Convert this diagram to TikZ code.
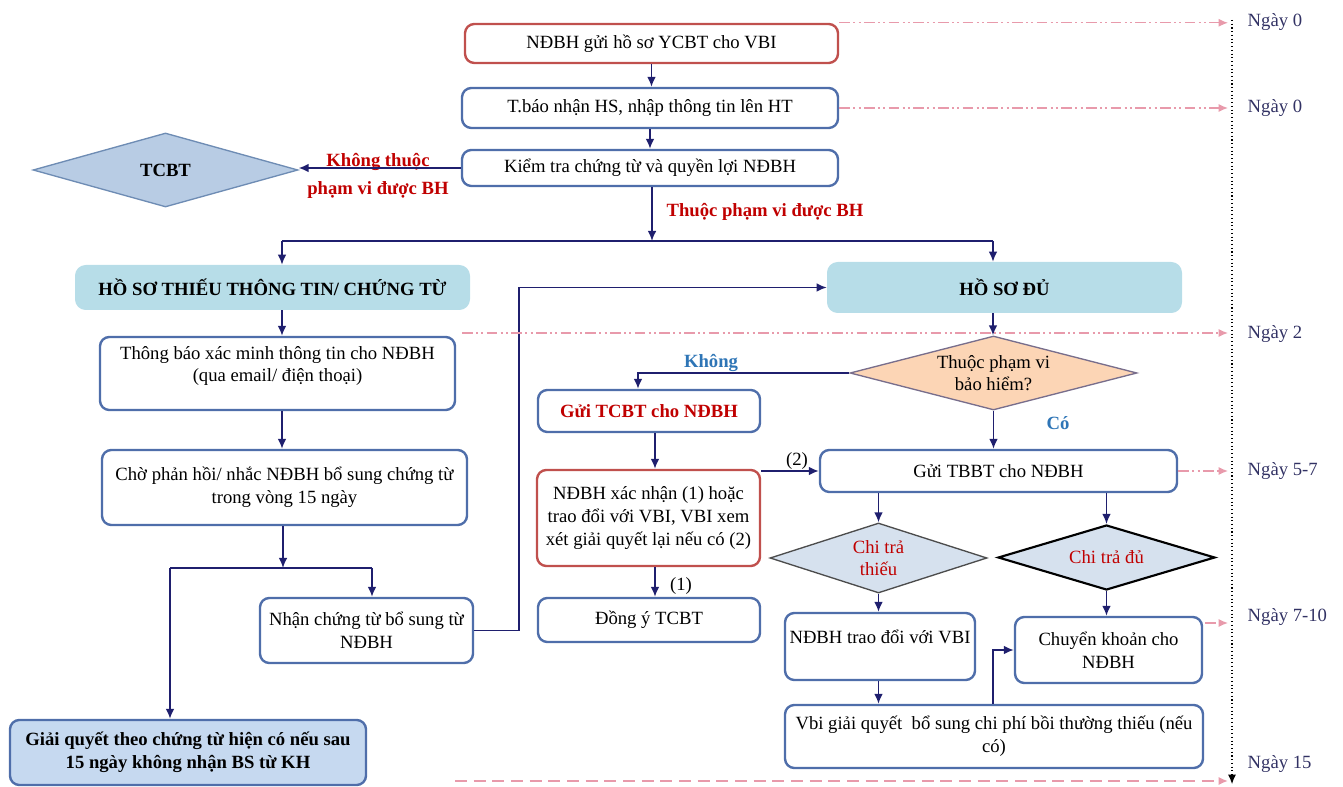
\documentclass[tikz,border=0pt]{standalone}
\usepackage{fontspec}
\setmainfont{Liberation Serif}
\usetikzlibrary{shapes.geometric,arrows.meta,calc}
\definecolor{bblue}{RGB}{79,110,170}
\definecolor{bred}{RGB}{192,80,77}
\definecolor{navyc}{RGB}{31,31,110}
\definecolor{hsfill}{RGB}{183,221,232}
\definecolor{gqfill}{RGB}{198,217,240}
\definecolor{tcfill}{RGB}{184,204,228}
\definecolor{tcdraw}{RGB}{110,140,180}
\definecolor{tpfill}{RGB}{252,213,181}
\definecolor{tpdraw}{RGB}{120,110,140}
\definecolor{ctfill}{RGB}{214,225,238}
\definecolor{redt}{RGB}{192,0,0}
\definecolor{bluet}{RGB}{46,117,182}
\definecolor{dayt}{RGB}{50,50,100}
\definecolor{pinkc}{RGB}{232,154,171}
\begin{document}
\begin{tikzpicture}[x=0.75pt,y=-0.75pt,
  every node/.style={font=\fontsize{14}{17}\selectfont},
  wh/.style 2 args={minimum width={#1*0.75pt}, minimum height={#2*0.75pt}},
  box/.style={draw=bblue, line width=1.8pt, rounded corners=7pt, fill=white, align=center, inner sep=1pt},
  rbox/.style={box, draw=bred},
  hsbox/.style={fill=hsfill, rounded corners=8pt, align=center, inner sep=1pt, font=\fontsize{14}{17}\selectfont\bfseries},
  dia/.style={diamond, inner sep=0pt, align=center},
  arr/.style={draw=navyc, line width=1.2pt, -{Latex[length=7.5pt,width=6.5pt]}},
  ln/.style={draw=navyc, line width=1.2pt},
  dd/.style={draw=pinkc, line width=0.9pt, dash pattern=on 8pt off 2.5pt on 1.5pt off 2.5pt on 1.5pt off 2.5pt, -{Latex[length=7pt,width=6pt]}},
  ddb/.style={draw=pinkc, line width=1.2pt, dash pattern=on 9pt off 5pt, -{Latex[length=7pt,width=6pt]}},
  day/.style={anchor=west, text=dayt},
  redlab/.style={text=redt, font=\fontsize{14}{17}\selectfont\bfseries, align=center},
  bluelab/.style={text=bluet, font=\fontsize{14}{17}\selectfont\bfseries}
]
\useasboundingbox (0,0) rectangle (1343,787);

% top column
\node[rbox, wh={373}{39}] (n1) at (651.5,43.5) {NĐBH gửi hồ sơ YCBT cho VBI};
\node[box, wh={376}{40}] (n2) at (650,108) {T.báo nhận HS, nhập thông tin lên HT};
\node[box, wh={376}{36}] (n3) at (650,168) {Kiểm tra chứng từ và quyền lợi NĐBH};
\node[dia, aspect=3.6, wh={265}{74}, fill=tcfill, draw=tcdraw, line width=1pt, font=\fontsize{14}{17}\selectfont\bfseries] (tcbt) at (165.5,170) {TCBT};
\node[redlab] (lbKT) at (378,176) {Không thuộc\\[4pt]phạm vi được BH};
\node[redlab] (lbT) at (765,212) {Thuộc phạm vi được BH};

% second level
\node[hsbox, wh={395}{45}] (hst) at (272.5,287.5) {HỒ SƠ THIẾU THÔNG TIN/ CHỨNG TỪ};
\node[hsbox, wh={355}{51}] (hsd) at (1004.5,287.5) {HỒ SƠ ĐỦ};

% left column
\node[box, wh={355}{73}, text depth=14pt] (L1) at (277.5,373.5) {Thông báo xác minh thông tin cho NĐBH\\(qua email/ điện thoại)};
\node[box, wh={365}{75}] (L2) at (284.5,487.5) {Chờ phản hồi/ nhắc NĐBH bổ sung chứng từ\\trong vòng 15 ngày};
\node[box, wh={213}{65}] (nhan) at (366.5,630.5) {Nhận chứng từ bổ sung từ\\NĐBH};
\node[box, wh={356}{65}, fill=gqfill, font=\fontsize{14}{17}\selectfont\bfseries] (gq) at (188,752.5) {Giải quyết theo chứng từ hiện có nếu sau\\15 ngày không nhận BS từ KH};

% middle column
\node[dia, aspect=3.9, wh={287}{74}, fill=tpfill, draw=tpdraw, line width=1pt] (tp) at (993.5,373) {Thuộc phạm vi\\bảo hiểm?};
\node[box, wh={222}{42}, font=\fontsize{14}{17}\selectfont\bfseries, text=redt] (gtc) at (649,411) {Gửi TCBT cho NĐBH};
\node[rbox, wh={223}{96}] (xn) at (648.5,518) {NĐBH xác nhận (1) hoặc\\trao đổi với VBI, VBI xem\\xét giải quyết lại nếu có (2)};
\node[box, wh={222}{44}] (dy) at (649,620) {Đồng ý TCBT};

% right column
\node[box, wh={357}{42}] (tbbt) at (998.5,471) {Gửi TBBT cho NĐBH};
\node[dia, aspect=3.1, wh={217}{70}, fill=ctfill, draw=black!70, line width=1pt, text=redt] (ctt) at (878.5,558) {Chi trả\\thiếu};
\node[dia, aspect=3.3, wh={217}{65}, fill=ctfill, draw=black, line width=1.6pt, text=redt] (ctd) at (1106.5,557.5) {Chi trả đủ};
\node[box, wh={190}{67}, text depth=14pt] (ntd) at (880,646.5) {NĐBH trao đổi với VBI};
\node[box, wh={187}{66}] (ck) at (1108.5,650) {Chuyển khoản cho\\NĐBH};
\node[box, wh={418}{63}] (vbi) at (994,736.5) {Vbi giải quyết \ bổ sung chi phí bồi thường thiếu (nếu\\có)};

% labels
\node[bluelab] (lbK) at (711,363) {Không};
\node[bluelab] (lbC) at (1058,423) {Có};
\node (lb2) at (797,461) {(2)};
\node (lb1) at (681,586) {(1)};

% column coordinates
\coordinate (cL) at (282,0);
\coordinate (cR) at (993,0);
\coordinate (cK) at (638,0);
\coordinate (cX) at (655,0);
\coordinate (cG) at (170,0);
\coordinate (cN) at (372,0);
\coordinate (sp1) at (652,241);
\coordinate (sp2) at (283,568);

% connectors
\draw[arr] (n1.south) -- (n1.south |- n2.north);
\draw[arr] (n2.south) -- (n2.south |- n3.north);
\draw[arr] (n3.west) -- (n3.west -| tcbt.east);
\draw[arr] (n3.south -| sp1) -- (sp1);
\draw[ln] (sp1 -| cL) -- (sp1 -| cR);
\draw[arr] (sp1 -| cL) -- (hst.north -| cL);
\draw[arr] (sp1 -| cR) -- (hsd.north -| cR);
\draw[arr] (hst.south -| cL) -- (L1.north -| cL);
\draw[arr] (L1.south -| cL) -- (L2.north -| cL);
\draw[arr] (L2.south -| sp2) -- (sp2);
\draw[ln] (sp2 -| cG) -- (sp2 -| cN);
\draw[arr] (sp2 -| cG) -- (gq.north -| cG);
\draw[arr] (sp2 -| cN) -- (nhan.north -| cN);
\draw[arr] (nhan.east) -- ++(45,0) |- (hsd.west);
\draw[arr] (hsd.south -| cR) -- (tp.north -| cR);
\draw[arr] (tp.west) -| (gtc.north -| cK);
\draw[arr] (tp.south) -- (tp.south |- tbbt.north);
\draw[arr] (gtc.south -| cX) -- (xn.north -| cX);
\draw[arr] (xn.south -| cX) -- (dy.north -| cX);
\draw[arr] (xn.east |- tbbt.west) -- (tbbt.west);
\draw[arr] (tbbt.south -| ctt.north) -- (ctt.north);
\draw[arr] (tbbt.south -| ctd.north) -- (ctd.north);
\draw[arr] (ctt.south) -- (ctt.south |- ntd.north);
\draw[arr] (ctd.south) -- (ctd.south |- ck.north);
\draw[arr] (ntd.south -| ctt.south) -- (vbi.north -| ctt.south);
\draw[arr] (vbi.north -| cR) |- (ck.west);

% timeline
\coordinate (tlTop) at (1232,20);
\coordinate (tlBot) at (1232,784);
\coordinate (tl) at (1228,0);
\draw[dotted, line width=0.8pt, -{Latex[length=7pt,width=6pt]}] (tlTop) -- (tlBot);
\draw[dd] (n1.north east) -- (n1.north east -| tl);
\draw[dd] (n2.east) -- (n2.east -| tl);
\coordinate (d2s) at (462,333);
\draw[dd] (d2s) -- (d2s -| tl);
\draw[dd] (tbbt.east) -- (tbbt.east -| tl);
\coordinate (d4s) at (1205,623);
\draw[dd] (d4s) -- (d4s -| tl);
\coordinate (d5s) at (455,781);
\draw[ddb] (d5s) -- (d5s -| tl);

\node[day] (day1) at (1243,22) {Ngày 0};
\node[day] (day2) at (1243,108) {Ngày 0};
\node[day] (day3) at (1243,334) {Ngày 2};
\node[day] (day4) at (1243,471) {Ngày 5-7};
\node[day] (day5) at (1243,617) {Ngày 7-10};
\node[day] (day6) at (1243,764) {Ngày 15};
\end{tikzpicture}
\end{document}
